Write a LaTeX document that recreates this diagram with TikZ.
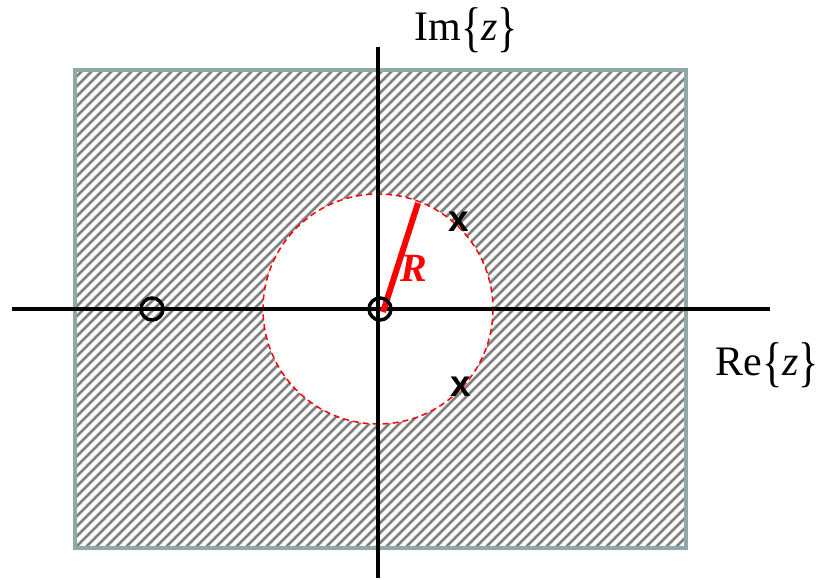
\documentclass[tikz,border=0pt]{standalone}
\usepackage{fontspec}
\setmainfont{Liberation Serif}
\newfontfamily\sansb{Liberation Sans}
\definecolor{boxedge}{RGB}{143,168,168}
\definecolor{hatchgray}{RGB}{128,128,128}
\newcommand{\tallbr}[1]{\raisebox{-0.12em}{\scalebox{1}[1.3]{#1}}}
\begin{document}
\begin{tikzpicture}[x=1pt,y=-1pt,
  hatch/.style={hatchgray,line width=2.8pt},
  axis/.style={black,line width=4pt},
  zero/.style={circle,draw=black,line width=3.5pt,minimum size=22pt,inner sep=0pt},
  pole/.style={font=\sansb\bfseries\fontsize{37}{37}\selectfont,inner sep=0pt},
  lbl/.style={font=\fontsize{42}{42}\selectfont,inner sep=0pt}]
\useasboundingbox (0,0) rectangle (827,579);
% hatched region
\begin{scope}
  \clip (75,70) rectangle (686,548);
  \foreach \i in {-480,-470,...,620} \draw[hatch] (\i+75,548) -- ++(478,-478);
\end{scope}
% ROC disk excluded
\coordinate (o) at (378,309);
\fill[white] (o) circle (115);
\draw[red,line width=1.5pt,dash pattern=on 6pt off 4pt] (o) circle (115);
\draw[boxedge,line width=4pt] (75,70) rectangle (686,548);
% axes
\coordinate (xl) at (12,309);
\coordinate (xr) at (770,309);
\coordinate (yt) at (378,47);
\coordinate (yb) at (378,578);
\draw[axis] (xl) -- (xr);
\draw[axis] (yb) -- (yt);
% radius
\coordinate (r0) at (383,312);
\coordinate (r1) at (418,203);
\draw[red,line width=6pt] (r0) -- (r1);
\node[text=red,font=\bfseries\itshape\fontsize{40}{40}\selectfont,inner sep=0pt] (R) at (414,268) {R};
% zeros
\node[zero] (z1) at (152,309) {};
\node[zero] (z2) at (380,309) {};
% poles
\node[pole] (p1) at (459,222) {x};
\node[pole] (p2) at (461,387) {x};
% labels
\node[lbl] (im) at (466,30) {Im\tallbr{\{}\textit{z}\tallbr{\}}};
\node[lbl] (re) at (767,365) {Re\tallbr{\{}\textit{z}\tallbr{\}}};
\end{tikzpicture}
\end{document}
